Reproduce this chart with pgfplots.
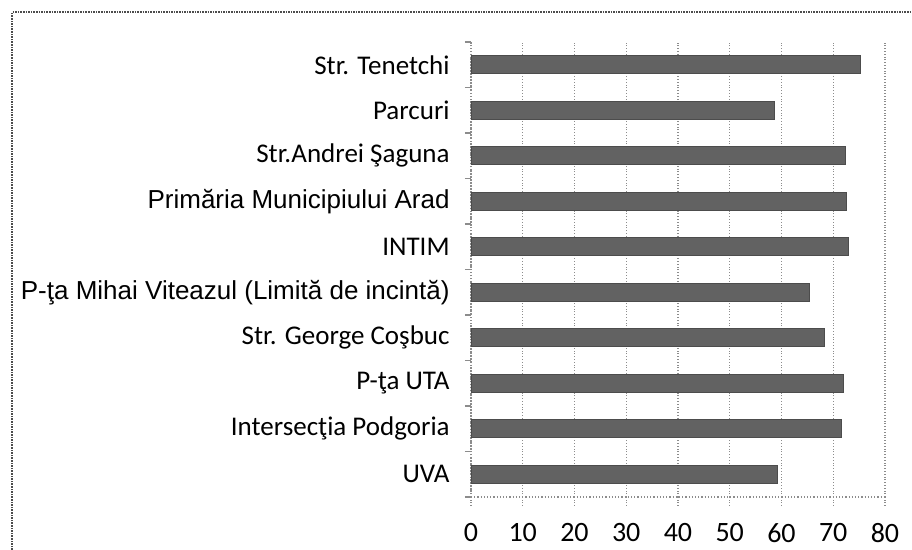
\documentclass[border=0pt]{standalone}
\usepackage{pgfplots}
\pgfplotsset{compat=1.18}
\usepackage{fontspec}
\setmainfont{Carlito}
\newfontfamily\arialf{Liberation Sans}
\definecolor{barfill}{HTML}{626262}
\definecolor{gridgray}{HTML}{8C8C8C}

\begin{document}
\begin{tikzpicture}
  % page is 912x550 px at 0.5pt per px
  \path[use as bounding box] (0,0) rectangle (456pt,-275pt);
  \draw[black!70, dash pattern=on 0.8pt off 0.5pt, line width=0.9pt] (6pt,-275pt) -- (6pt,-6.2pt) -- (456pt,-6.2pt);
  \begin{axis}[
      at={(235.5pt,-248.5pt)}, anchor=south west,
      scale only axis, width=207pt, height=227.5pt,
      xbar, bar width=9pt,
      xmin=0, xmax=80, xtick={0,10,...,80},
      ymin=-0.5, ymax=9.5,
      ytick={0,...,9},
      yticklabels={UVA, Intersecţia Podgoria, P-ţa UTA, Str. George Coşbuc,
        {\arialf\fontsize{13}{15}\selectfont P-ţa Mihai Viteazul (Limită de incintă)},
        INTIM,
        {\arialf\fontsize{13}{15}\selectfont Primăria Municipiului Arad},
        Str.Andrei Şaguna, Parcuri, Str. Tenetchi},
      minor ytick={-0.5,0.5,...,9.5},
      axis x line*=bottom, axis y line*=left,
      axis line style={gridgray, densely dotted, line width=0.6pt},
      xmajorgrids, major grid style={gridgray, densely dotted, line width=0.6pt},
      major x tick style={gridgray, densely dotted, line width=0.6pt},
      major y tick style={draw=none},
      minor y tick style={gridgray, line width=0.6pt},
      tick align=outside, major tick length=4pt, minor tick length=3pt,
      /pgf/number format/assume math mode=true,
      xticklabel style={font=\fontsize{14}{16}\selectfont, inner sep=0pt, anchor=north, yshift=-9pt},
      yticklabel style={font=\fontsize{13.5}{16}\selectfont, inner sep=0pt, anchor=east, xshift=-6.5pt},
      clip=false,
    ]
    \addplot[fill=barfill, draw=black!70, line width=0.4pt] coordinates {
      (59.3,0) (71.6,1) (71.9,2) (68.2,3) (65.3,4)
      (73.0,5) (72.6,6) (72.4,7) (58.7,8) (75.3,9)
    };
  \end{axis}
\end{tikzpicture}
\end{document}
